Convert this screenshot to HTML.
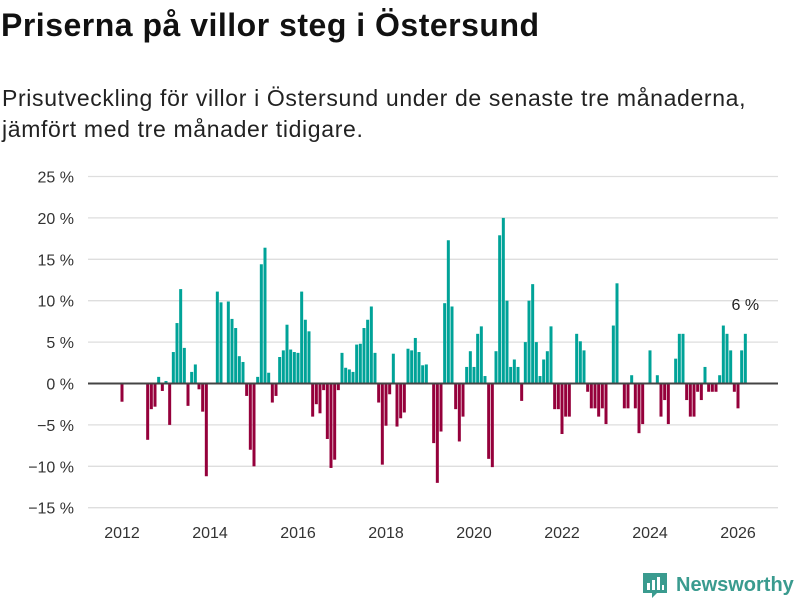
<!DOCTYPE html>
<html><head><meta charset="utf-8"><style>
body{margin:0;width:800px;height:600px;background:#fff;overflow:hidden;font-family:"Liberation Sans",sans-serif;}
#title{position:absolute;left:1px;top:7px;font-size:32px;letter-spacing:0.5px;font-weight:bold;color:#111;margin:0;}
#sub{position:absolute;left:2px;top:83px;font-size:23px;letter-spacing:0.65px;line-height:31px;color:#222;margin:0;}
svg{position:absolute;left:0;top:0;}
</style></head><body>
<h1 id="title">Priserna på villor steg i Östersund</h1>
<p id="sub">Prisutveckling för villor i Östersund under de senaste tre månaderna,<br>jämfört med tre månader tidigare.</p>
<svg id="chart" width="800" height="600"></svg>
<script>
const startYear = 2012;
const values = [
-2.2,0,0,0,0,0,0,-6.8,-3.1,-2.8,
0.8,-0.9,0.3,-5.0,3.8,7.3,11.4,4.3,-2.7,1.4,
2.3,-0.7,-3.4,-11.2,0,0,11.1,9.8,0,9.9,
7.8,6.7,3.3,2.6,-1.5,-8.0,-10.0,0.8,14.4,16.4,
1.3,-2.3,-1.5,3.2,4.0,7.1,4.1,3.8,3.7,11.1,
7.7,6.3,-4.0,-2.5,-3.6,-0.8,-6.7,-10.2,-9.2,-0.8,
3.7,1.9,1.7,1.4,4.7,4.8,6.7,7.7,9.3,3.7,
-2.3,-9.8,-5.1,-1.3,3.6,-5.2,-4.2,-3.5,4.2,4.0,
5.5,3.8,2.2,2.3,0,-7.2,-12.0,-5.8,9.7,17.3,
9.3,-3.1,-7.0,-4.0,2.0,3.9,2.0,6.0,6.9,0.9,
-9.1,-10.1,3.9,17.9,20.0,10.0,2.0,2.9,2.0,-2.1,
5.0,10.0,12.0,5.0,0.9,2.9,3.9,6.9,-3.1,-3.1,
-6.1,-4.0,-4.0,0,6.0,5.1,4.0,-1.0,-3.0,-3.0,
-4.0,-3.0,-4.9,0,7.0,12.1,0,-3.0,-3.0,1.0,
-3.0,-6.0,-4.9,0,4.0,0,1.0,-4.0,-2.0,-4.9,
0,3.0,6.0,6.0,-2.0,-4.0,-4.0,-1.0,-2.0,2.0,
-1.0,-1.0,-1.0,1.0,7.0,6.0,4.0,-1.0,-3.0,4.0,6.0];
const months = values.map((v,i)=>`${startYear+Math.floor(i/12)}-${String(i%12+1).padStart(2,'0')}`);
const yTicks = [25,20,15,10,5,0,-5,-10,-15];
const xTickYears = [2012,2014,2016,2018,2020,2022,2024,2026];

const NS='http://www.w3.org/2000/svg';
const svg=document.getElementById('chart');
const y=v=>383.5-v*8.28;
const x=i=>122+i*44/12;
function mk(t,a){const e=document.createElementNS(NS,t);for(const k in a)e.setAttribute(k,a[k]);svg.appendChild(e);return e;}
yTicks.forEach(t=>{
  if(t!==0){const g=mk('line',{x1:88,x2:778,y1:y(t),y2:y(t),stroke:'#dedede','stroke-width':1.3});
  
  }
  const l=mk('text',{x:74,y:y(t)+6,'text-anchor':'end','font-size':16,fill:'#333','font-family':'Liberation Sans, sans-serif'});
  l.textContent=(t<0?'−'+(-t):t)+' %';
  
  
});
xTickYears.forEach(yr=>{
  const l=mk('text',{x:x((yr-startYear)*12),y:538,'text-anchor':'middle','font-size':16,fill:'#333','font-family':'Liberation Sans, sans-serif'});
  l.textContent=yr;
  
  
});
values.forEach((v,i)=>{
  if(v===0)return;
  const b=mk('rect',{x:x(i)-1.5,width:3,y:Math.min(y(v),y(0)),height:Math.abs(y(v)-y(0)),fill:v>0?'#00A398':'#95003B'});
  
  
});
const ax=mk('line',{x1:88,x2:778,y1:y(0),y2:y(0),stroke:'#444','stroke-width':2});


const last=values.length-1;
const lab=mk('text',{x:x(last),y:y(values[last])-24,'text-anchor':'middle','font-size':16,fill:'#222','font-family':'Liberation Sans, sans-serif'});
lab.textContent=values[last]+' %';


</script>
<div style="position:absolute;left:643px;top:570px;height:30px;display:flex;align-items:center;">
  <svg width="24" height="28" viewBox="0 0 24 28" style="position:static"><path d="M0 2h24v20H14l-5 5v-5H0z" fill="#3a9b8f"/><rect x="4" y="12" width="3" height="7" fill="#fff"/><rect x="9" y="9" width="3" height="10" fill="#fff"/><rect x="14" y="6" width="3" height="13" fill="#fff"/><rect x="19" y="14" width="2" height="5" fill="#fff"/></svg>
  <span style="font-size:20px;font-weight:bold;color:#3a9b8f;margin-left:9px;">Newsworthy</span>
</div>
</body></html>
